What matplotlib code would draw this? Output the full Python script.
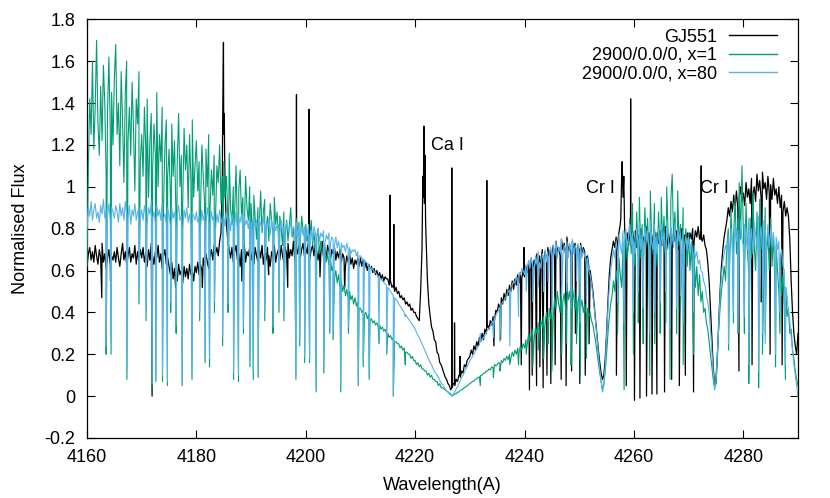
import numpy as np
import matplotlib
matplotlib.use("Agg")
import matplotlib.pyplot as plt
from matplotlib.ticker import FuncFormatter, MultipleLocator

# ---------------- data ----------------
# wavelength grid of the sampled spectra (Angstrom), 0.25 A steps, 4160..4290
wl_grid = np.arange(4160.0, 4290.0 + 0.1, 0.25)

# GJ551 observed spectrum, flux on wl_grid (one row = 5 A)
gj551_cont = [
    0.62, 0.68, 0.71, 0.65, 0.69, 0.64, 0.72, 0.67, 0.63, 0.70, 0.66, 0.73, 0.64, 0.68, 0.61, 0.66, 0.70, 0.63, 0.67, 0.65,
    0.69, 0.64, 0.71, 0.66, 0.62, 0.68, 0.73, 0.65, 0.69, 0.63, 0.67, 0.71, 0.64, 0.68, 0.66, 0.72, 0.63, 0.69, 0.65, 0.70,
    0.66, 0.71, 0.64, 0.68, 0.62, 0.70, 0.65, 0.73, 0.67, 0.63, 0.69, 0.66, 0.72, 0.64, 0.68, 0.61, 0.67, 0.70, 0.63, 0.66,
    0.62, 0.58, 0.64, 0.56, 0.61, 0.59, 0.55, 0.63, 0.58, 0.60, 0.54, 0.62, 0.57, 0.61, 0.56, 0.63, 0.58, 0.60, 0.55, 0.62,
    0.59, 0.64, 0.58, 0.63, 0.60, 0.66, 0.62, 0.68, 0.64, 0.61, 0.67, 0.70, 0.65, 0.72, 0.68, 0.71, 0.67, 0.74, 0.78, 1.05,
    1.25, 0.98, 0.82, 0.74, 0.70, 0.66, 0.71, 0.64, 0.69, 0.72, 0.65, 0.68, 0.62, 0.70, 0.66, 0.73, 0.64, 0.69, 0.67, 0.71,
    0.65, 0.69, 0.63, 0.71, 0.67, 0.64, 0.70, 0.66, 0.72, 0.63, 0.68, 0.65, 0.71, 0.67, 0.62, 0.69, 0.66, 0.72, 0.64, 0.68,
    0.70, 0.65, 0.72, 0.67, 0.64, 0.71, 0.68, 0.73, 0.66, 0.70, 0.67, 0.74, 0.65, 0.71, 0.68, 0.72, 0.66, 0.70, 0.73, 0.67,
    0.71, 0.68, 0.74, 0.66, 0.70, 0.72, 0.67, 0.73, 0.69, 0.65, 0.71, 0.68, 0.74, 0.67, 0.70, 0.66, 0.72, 0.69, 0.65, 0.70,
    0.68, 0.71, 0.65, 0.69, 0.66, 0.70, 0.64, 0.68, 0.66, 0.62, 0.67, 0.64, 0.68, 0.63, 0.66, 0.61, 0.65, 0.63, 0.66, 0.62,
    0.66, 0.62, 0.65, 0.61, 0.64, 0.60, 0.63, 0.61, 0.62, 0.59, 0.61, 0.58, 0.60, 0.57, 0.59, 0.56, 0.58, 0.55, 0.57, 0.56,
    0.56, 0.53, 0.55, 0.52, 0.53, 0.50, 0.52, 0.49, 0.50, 0.47, 0.48, 0.46, 0.47, 0.44, 0.45, 0.43, 0.44, 0.41, 0.42, 0.40,
    0.40, 0.38, 0.37, 0.36, 0.50, 0.70, 0.95, 1.00, 0.75, 0.55, 0.44, 0.38, 0.33, 0.31, 0.27, 0.26, 0.21, 0.20, 0.16, 0.15,
    0.13, 0.11, 0.09, 0.08, 0.06, 0.05, 0.03, 0.04, 0.06, 0.05, 0.08, 0.07, 0.10, 0.09, 0.12, 0.11, 0.15, 0.14, 0.17, 0.18,
    0.19, 0.22, 0.20, 0.24, 0.22, 0.26, 0.24, 0.28, 0.26, 0.30, 0.27, 0.32, 0.30, 0.34, 0.32, 0.36, 0.34, 0.38, 0.36, 0.41,
    0.40, 0.44, 0.42, 0.47, 0.44, 0.49, 0.46, 0.51, 0.48, 0.53, 0.50, 0.55, 0.51, 0.56, 0.53, 0.58, 0.54, 0.59, 0.56, 0.60,
    0.57, 0.62, 0.59, 0.64, 0.60, 0.66, 0.61, 0.65, 0.62, 0.68, 0.63, 0.67, 0.64, 0.70, 0.65, 0.69, 0.66, 0.71, 0.67, 0.70,
    0.68, 0.72, 0.66, 0.74, 0.69, 0.71, 0.67, 0.75, 0.70, 0.73, 0.68, 0.76, 0.69, 0.72, 0.67, 0.74, 0.70, 0.73, 0.68, 0.72,
    0.70, 0.73, 0.68, 0.71, 0.69, 0.66, 0.67, 0.62, 0.60, 0.55, 0.50, 0.43, 0.36, 0.29, 0.22, 0.16, 0.11, 0.08, 0.10, 0.18,
    0.30, 0.45, 0.58, 0.66, 0.70, 0.74, 0.71, 0.76, 0.73, 0.78, 0.82, 1.05, 0.95, 0.90, 0.75, 0.78, 0.74, 0.80, 0.76, 0.79,
    0.74, 0.79, 0.71, 0.77, 0.73, 0.80, 0.70, 0.76, 0.74, 0.81, 0.72, 0.78, 0.70, 0.77, 0.75, 0.80, 0.71, 0.78, 0.73, 0.79,
    0.72, 0.78, 0.74, 0.81, 0.70, 0.77, 0.73, 0.80, 0.71, 0.78, 0.74, 0.79, 0.70, 0.76, 0.73, 0.80, 0.71, 0.77, 0.74, 0.78,
    0.73, 0.78, 0.75, 0.80, 0.74, 0.79, 0.76, 0.81, 0.75, 0.78, 0.74, 0.77, 0.72, 0.70, 0.64, 0.55, 0.42, 0.28, 0.14, 0.05,
    0.06, 0.18, 0.35, 0.50, 0.62, 0.70, 0.76, 0.80, 0.84, 0.90, 0.86, 0.93, 0.88, 0.96, 0.91, 0.98, 0.89, 0.95, 1.00, 0.93,
    0.97, 0.91, 1.02, 0.95, 0.99, 0.92, 1.04, 0.96, 1.00, 0.93, 1.06, 0.98, 1.03, 0.95, 1.07, 0.99, 1.02, 0.94, 1.05, 0.97,
    1.01, 0.94, 1.04, 0.96, 0.99, 0.92, 1.00, 0.90, 0.96, 0.88, 0.93, 0.86, 0.90, 0.86, 0.75, 0.55, 0.40, 0.30, 0.24, 0.20,
    0.30,
]

# GJ551 narrow features (absorption lines and emission spikes)
gj551_line_wl = [
    4162.7, 4164.3, 4171.9, 4176.2, 4181.1,
    4184.8, 4184.9, 4184.95, 4185.1, 4185.15,
    4188.3, 4193.2, 4196.7,
    4198.27, 4198.30, 4198.33,
    4200.57, 4200.60, 4200.63,
    4202.6, 4207.1,
    4215.37, 4215.40, 4215.43,
    4216.07, 4216.10, 4216.13,
    4221.40, 4221.60, 4221.70, 4221.80, 4221.90,
    4226.67, 4226.70, 4226.73,
    4227.17, 4227.20, 4227.23,
    4228.17, 4228.20, 4228.23,
    4233.07, 4233.10, 4233.13,
    4234.4, 4235.6, 4239.4,
    4239.87, 4239.90, 4239.93,
    4240.9, 4241.4, 4242.2, 4242.8, 4243.4, 4244.1, 4244.8, 4245.6,
    4246.7, 4247.6, 4248.6, 4249.3, 4250.1, 4251.1, 4251.8,
    4256.8,
    4257.6, 4257.7, 4257.85, 4258.15, 4258.3,
    4258.6,
    4259.37, 4259.40, 4259.43,
    4260.1, 4261.1, 4262.3, 4263.3, 4264.2, 4265.6, 4266.9, 4268.3,
    4269.4, 4270.9,
    4272.27, 4272.30, 4272.33,
    4279.2, 4281.6, 4283.3, 4284.9, 4287.1,
]
gj551_line_flux = [
    0.47, 0.55, 0.00, 0.52, 0.52,
    1.30, 1.55, 1.69, 1.35, 1.20,
    0.55, 0.58, 0.52,
    0.70, 1.44, 0.70,
    0.70, 1.37, 0.70,
    0.57, 0.52,
    0.55, 0.96, 0.55,
    0.52, 0.82, 0.52,
    1.05, 1.29, 0.92, 1.15, 0.85,
    0.04, 1.09, 0.05,
    0.06, 0.35, 0.07,
    0.10, 0.19, 0.11,
    0.32, 1.03, 0.33,
    0.24, 0.27, 0.15,
    0.58, 0.71, 0.58,
    0.03, 0.10, 0.05, 0.14, 0.04, 0.10, 0.06, 0.15,
    0.08, 0.05, 0.12, 0.30, 0.06, 0.10, 0.25,
    0.10,
    0.85, 1.00, 1.12, 1.05, 0.80,
    0.05,
    0.72, 1.42, 0.72,
    -0.02, -0.01, 0.00, 0.01, 0.01, 0.02, 0.08, 0.05,
    0.10, 0.02,
    0.75, 1.10, 0.75,
    0.12, 0.15, 0.45, 0.20, 0.15,
]

# model 2900/0.0/0, x=1, flux on wl_grid
x1_cont = [
    0.62, 1.10, 1.42, 1.25, 1.60, 1.18, 1.38, 1.70, 1.30, 1.15, 1.48, 1.22, 1.58, 1.40, 1.05, 1.35, 1.62, 1.28, 1.45, 1.20,
    1.52, 1.68, 1.25, 1.40, 1.10, 1.55, 1.32, 1.02, 1.45, 1.60, 1.22, 1.38, 1.15, 1.50, 1.28, 0.98, 1.42, 1.30, 1.55, 1.12,
    1.25, 1.05, 1.38, 1.18, 1.42, 0.95, 1.22, 1.35, 1.08, 1.30, 1.15, 1.45, 1.00, 1.25, 1.12, 1.38, 0.92, 1.20, 1.32, 1.05,
    1.18, 0.95, 1.30, 1.05, 1.22, 0.88, 1.12, 1.35, 1.00, 1.15, 0.92, 1.28, 1.08, 1.20, 0.90, 1.25, 1.02, 1.32, 0.95, 1.10,
    1.22, 0.98, 1.12, 0.88, 1.20, 1.05, 0.92, 1.18, 1.00, 1.25, 0.90, 1.08, 0.96, 1.15, 0.86, 1.10, 1.02, 1.20, 0.92, 1.05,
    1.12, 0.95, 1.05, 0.85, 1.16, 0.90, 0.82, 1.00, 0.88, 1.10, 0.80, 0.98, 1.08, 0.86, 0.95, 0.78, 1.05, 0.90, 0.84, 1.00,
    0.92, 0.80, 0.96, 0.85, 0.75, 0.90, 0.82, 0.98, 0.78, 0.88, 0.94, 0.80, 0.86, 0.74, 0.92, 0.84, 0.78, 0.95, 0.82, 0.88,
    0.76, 0.86, 0.80, 0.72, 0.88, 0.78, 0.84, 0.74, 0.82, 0.90, 0.76, 0.80, 0.70, 0.85, 0.78, 0.83, 0.74, 0.86, 0.79, 0.76,
    0.82, 0.74, 0.80, 0.76, 0.84, 0.72, 0.78, 0.70, 0.76, 0.80, 0.68, 0.74, 0.70, 0.66, 0.72, 0.64, 0.68, 0.62, 0.66, 0.60,
    0.62, 0.56, 0.60, 0.54, 0.58, 0.52, 0.55, 0.50, 0.53, 0.48, 0.51, 0.47, 0.50, 0.46, 0.48, 0.44, 0.47, 0.43, 0.45, 0.42,
    0.42, 0.40, 0.41, 0.39, 0.40, 0.37, 0.39, 0.36, 0.37, 0.35, 0.36, 0.34, 0.35, 0.33, 0.34, 0.32, 0.33, 0.31, 0.32, 0.30,
    0.30, 0.28, 0.29, 0.27, 0.28, 0.26, 0.26, 0.25, 0.25, 0.23, 0.24, 0.22, 0.23, 0.21, 0.21, 0.20, 0.20, 0.18, 0.19, 0.17,
    0.17, 0.15, 0.16, 0.14, 0.15, 0.13, 0.13, 0.12, 0.12, 0.10, 0.11, 0.09, 0.10, 0.08, 0.08, 0.07, 0.07, 0.05, 0.06, 0.04,
    0.04, 0.035, 0.03, 0.025, 0.02, 0.015, 0.01, 0.0, 0.005, 0.01, 0.012, 0.018, 0.02, 0.028, 0.03, 0.035, 0.04, 0.045, 0.048, 0.055,
    0.06, 0.065, 0.07, 0.072, 0.08, 0.083, 0.09, 0.092, 0.10, 0.10, 0.11, 0.11, 0.12, 0.12, 0.13, 0.125, 0.14, 0.135, 0.15, 0.145,
    0.15, 0.16, 0.155, 0.17, 0.16, 0.18, 0.17, 0.19, 0.175, 0.20, 0.18, 0.21, 0.19, 0.22, 0.20, 0.23, 0.21, 0.24, 0.22, 0.25,
    0.23, 0.27, 0.25, 0.30, 0.26, 0.29, 0.32, 0.27, 0.33, 0.30, 0.35, 0.31, 0.36, 0.33, 0.38, 0.34, 0.40, 0.35, 0.42, 0.37,
    0.43, 0.38, 0.47, 0.42, 0.50, 0.44, 0.40, 0.52, 0.45, 0.49, 0.42, 0.54, 0.46, 0.50, 0.43, 0.52, 0.47, 0.41, 0.50, 0.45,
    0.48, 0.42, 0.46, 0.40, 0.44, 0.39, 0.42, 0.38, 0.40, 0.36, 0.34, 0.30, 0.26, 0.21, 0.16, 0.11, 0.07, 0.03, 0.06, 0.12,
    0.20, 0.30, 0.38, 0.44, 0.48, 0.55, 0.50, 0.60, 0.53, 0.66, 0.58, 0.52, 0.70, 0.62, 0.78, 0.65, 0.72, 0.85, 0.68, 0.92,
    0.75, 0.62, 0.88, 0.70, 0.95, 0.66, 0.82, 0.60, 0.90, 0.72, 0.85, 0.64, 0.98, 0.74, 0.68, 0.92, 0.78, 0.62, 0.88, 0.70,
    0.95, 0.72, 0.86, 0.66, 1.00, 0.78, 0.70, 0.94, 1.06, 0.75, 0.88, 0.68, 0.98, 0.72, 0.82, 0.64, 0.90, 0.70, 0.80, 0.62,
    0.78, 0.60, 0.72, 0.55, 0.68, 0.52, 0.62, 0.48, 0.58, 0.45, 0.50, 0.40, 0.42, 0.35, 0.32, 0.26, 0.20, 0.14, 0.08, 0.04,
    0.10, 0.20, 0.32, 0.42, 0.50, 0.56, 0.62, 0.55, 0.72, 0.80, 0.62, 0.88, 0.70, 0.78, 0.95, 0.68, 0.85, 1.02, 0.75, 1.10,
    0.80, 0.62, 0.92, 0.70, 0.58, 0.85, 0.66, 0.98, 0.72, 0.60, 0.88, 0.64, 0.94, 0.70, 0.82, 0.56, 0.90, 0.68, 0.78, 0.60,
    0.85, 0.62, 0.78, 0.55, 0.72, 0.60, 0.50, 0.68, 0.48, 0.58, 0.42, 0.52, 0.38, 0.42, 0.30, 0.32, 0.22, 0.18, 0.12, 0.08,
    0.05,
]

# model 2900/0.0/0, x=80, flux on wl_grid
x80_cont = [
    0.80, 0.90, 0.86, 0.93, 0.84, 0.89, 0.92, 0.85, 0.88, 0.83, 0.91, 0.87, 0.94, 0.85, 0.89, 0.86, 0.92, 0.84, 0.90, 0.88,
    0.85, 0.91, 0.88, 0.83, 0.92, 0.86, 0.90, 0.84, 0.93, 0.87, 0.85, 0.91, 0.82, 0.89, 0.86, 0.92, 0.84, 0.88, 0.90, 0.85,
    0.89, 0.84, 0.91, 0.86, 0.82, 0.90, 0.87, 0.93, 0.85, 0.88, 0.83, 0.91, 0.86, 0.89, 0.84, 0.92, 0.85, 0.87, 0.82, 0.90,
    0.86, 0.82, 0.90, 0.85, 0.88, 0.81, 0.87, 0.91, 0.84, 0.86, 0.80, 0.89, 0.85, 0.90, 0.83, 0.87, 0.82, 0.88, 0.86, 0.84,
    0.88, 0.83, 0.86, 0.80, 0.89, 0.84, 0.87, 0.82, 0.90, 0.85, 0.81, 0.88, 0.84, 0.86, 0.80, 0.87, 0.83, 0.89, 0.85, 0.82,
    0.86, 0.81, 0.88, 0.83, 0.85, 0.79, 0.87, 0.84, 0.82, 0.88, 0.80, 0.85, 0.83, 0.87, 0.79, 0.86, 0.82, 0.84, 0.80, 0.86,
    0.83, 0.79, 0.86, 0.81, 0.84, 0.78, 0.85, 0.82, 0.80, 0.86, 0.79, 0.83, 0.81, 0.85, 0.77, 0.84, 0.80, 0.83, 0.79, 0.82,
    0.82, 0.78, 0.84, 0.79, 0.81, 0.76, 0.83, 0.80, 0.78, 0.84, 0.77, 0.81, 0.79, 0.83, 0.76, 0.82, 0.78, 0.80, 0.77, 0.81,
    0.80, 0.76, 0.82, 0.77, 0.79, 0.74, 0.81, 0.78, 0.76, 0.80, 0.74, 0.78, 0.76, 0.79, 0.73, 0.77, 0.75, 0.78, 0.73, 0.76,
    0.75, 0.72, 0.76, 0.71, 0.74, 0.70, 0.73, 0.71, 0.72, 0.69, 0.73, 0.70, 0.71, 0.68, 0.70, 0.69, 0.70, 0.67, 0.69, 0.67,
    0.67, 0.66, 0.655, 0.65, 0.64, 0.635, 0.625, 0.62, 0.61, 0.605, 0.595, 0.59, 0.58, 0.575, 0.565, 0.56, 0.55, 0.545, 0.535, 0.53,
    0.52, 0.51, 0.50, 0.49, 0.48, 0.47, 0.46, 0.455, 0.44, 0.43, 0.42, 0.41, 0.40, 0.39, 0.38, 0.37, 0.36, 0.35, 0.34, 0.33,
    0.32, 0.305, 0.29, 0.28, 0.265, 0.25, 0.235, 0.22, 0.205, 0.19, 0.175, 0.16, 0.15, 0.135, 0.12, 0.11, 0.10, 0.09, 0.075, 0.065,
    0.055, 0.045, 0.035, 0.025, 0.018, 0.01, 0.005, 0.0, 0.01, 0.02, 0.035, 0.045, 0.06, 0.075, 0.09, 0.10, 0.115, 0.13, 0.14, 0.155,
    0.17, 0.18, 0.19, 0.20, 0.215, 0.225, 0.235, 0.245, 0.26, 0.27, 0.28, 0.29, 0.305, 0.315, 0.325, 0.335, 0.35, 0.36, 0.37, 0.385,
    0.40, 0.41, 0.425, 0.43, 0.45, 0.455, 0.47, 0.48, 0.50, 0.505, 0.52, 0.53, 0.55, 0.54, 0.57, 0.56, 0.59, 0.58, 0.61, 0.60,
    0.58, 0.63, 0.60, 0.65, 0.61, 0.66, 0.62, 0.59, 0.67, 0.63, 0.69, 0.64, 0.61, 0.68, 0.65, 0.70, 0.64, 0.69, 0.66, 0.71,
    0.67, 0.72, 0.68, 0.74, 0.66, 0.71, 0.69, 0.75, 0.67, 0.72, 0.70, 0.74, 0.66, 0.73, 0.69, 0.75, 0.68, 0.72, 0.70, 0.73,
    0.68, 0.72, 0.66, 0.70, 0.67, 0.64, 0.66, 0.60, 0.58, 0.54, 0.48, 0.42, 0.35, 0.28, 0.20, 0.13, 0.07, 0.02, 0.05, 0.15,
    0.28, 0.42, 0.52, 0.60, 0.65, 0.70, 0.66, 0.74, 0.69, 0.77, 0.72, 0.68, 0.79, 0.73, 0.80, 0.71, 0.76, 0.82, 0.72, 0.78,
    0.74, 0.68, 0.80, 0.72, 0.83, 0.70, 0.77, 0.66, 0.81, 0.74, 0.79, 0.69, 0.84, 0.73, 0.70, 0.82, 0.76, 0.68, 0.80, 0.72,
    0.82, 0.72, 0.78, 0.68, 0.84, 0.75, 0.70, 0.81, 0.77, 0.71, 0.83, 0.69, 0.80, 0.74, 0.78, 0.67, 0.79, 0.72, 0.76, 0.70,
    0.76, 0.70, 0.74, 0.68, 0.72, 0.66, 0.69, 0.63, 0.65, 0.60, 0.59, 0.55, 0.53, 0.48, 0.45, 0.40, 0.32, 0.22, 0.12, 0.03,
    0.06, 0.20, 0.35, 0.48, 0.58, 0.64, 0.68, 0.72, 0.69, 0.76, 0.71, 0.80, 0.73, 0.68, 0.82, 0.74, 0.79, 0.70, 0.84, 0.75,
    0.72, 0.82, 0.76, 0.70, 0.85, 0.74, 0.80, 0.68, 0.83, 0.77, 0.72, 0.86, 0.75, 0.81, 0.70, 0.84, 0.76, 0.73, 0.82, 0.71,
    0.80, 0.72, 0.78, 0.68, 0.76, 0.70, 0.74, 0.66, 0.70, 0.62, 0.60, 0.52, 0.48, 0.40, 0.36, 0.28, 0.22, 0.15, 0.10, 0.05,
    0.00,
]

# absorption lines shared by both models: position, flux at line centre
model_line_wl = [
    4163.5, 4164.4, 4167.3, 4169.5, 4170.8, 4171.9, 4172.6, 4173.8,
    4174.7, 4175.3, 4176.3, 4177.4, 4179.2, 4180.6, 4181.6, 4182.4,
    4183.3, 4184.8, 4185.8, 4186.8, 4187.7, 4188.6, 4189.8, 4190.4,
    4191.3, 4192.5, 4194.0, 4195.1, 4196.0, 4198.2, 4198.9, 4199.8,
    4200.7, 4201.9, 4203.3, 4204.4, 4205.0, 4206.4, 4207.8, 4209.6,
    4210.5, 4211.6, 4213.4, 4214.8, 4216.0, 4218.2,
    4231.9, 4234.3, 4235.5, 4237.3, 4238.9, 4240.3, 4241.5, 4242.5,
    4243.5, 4244.3, 4245.0, 4246.8, 4247.7, 4248.5, 4249.5, 4250.2,
    4251.3,
    4257.0, 4258.2, 4259.9, 4260.8, 4261.7, 4262.9, 4263.8, 4264.8,
    4265.8, 4266.6, 4267.8, 4268.5, 4269.0, 4270.9,
    4277.3, 4278.2, 4279.0, 4280.2, 4281.0, 4282.8, 4283.5, 4284.0,
    4285.9, 4286.7, 4287.7,
]
x1_line_flux = [
    0.20, 0.20, 0.08, 0.44, 0.36, 0.04, 0.07, 0.07,
    0.05, 0.40, 0.30, 0.05, 0.08, 0.36, 0.16, 0.14,
    0.40, 0.24, 0.40, 0.08, 0.07, 0.30, 0.14, 0.08,
    0.09, 0.36, 0.30, 0.40, 0.36, 0.08, 0.24, 0.16,
    0.16, 0.02, 0.11, 0.30, 0.27, 0.02, 0.30, 0.05,
    0.14, 0.08, 0.25, 0.20, 0.00, 0.15,
    0.05, 0.09, 0.12, 0.15, 0.15, 0.20, 0.14, 0.22,
    0.18, 0.25, 0.12, 0.20, 0.25, 0.15, 0.25, 0.10,
    0.18,
    0.30, 0.03, 0.20, 0.35, 0.25, 0.10, 0.25, 0.30,
    0.35, 0.08, 0.30, 0.40, 0.15, 0.20,
    0.22, 0.35, 0.30, 0.30, 0.06, 0.04, 0.20, 0.30,
    0.14, 0.30, 0.08,
]
x80_line_flux = [
    0.24, 0.26, 0.12, 0.50, 0.42, 0.06, 0.10, 0.10,
    0.07, 0.45, 0.34, 0.08, 0.12, 0.40, 0.19, 0.18,
    0.45, 0.28, 0.44, 0.11, 0.10, 0.33, 0.17, 0.12,
    0.12, 0.40, 0.33, 0.45, 0.40, 0.10, 0.27, 0.19,
    0.18, 0.04, 0.14, 0.33, 0.30, 0.05, 0.33, 0.07,
    0.17, 0.10, 0.28, 0.22, 0.01, 0.38,
    0.30, 0.28, 0.26, 0.24, 0.38, 0.50, 0.45, 0.52,
    0.50, 0.55, 0.40, 0.48, 0.50, 0.42, 0.55, 0.35,
    0.45,
    0.45, 0.35, 0.40, 0.50, 0.42, 0.30, 0.40, 0.45,
    0.50, 0.32, 0.42, 0.48, 0.35, 0.40,
    0.25, 0.40, 0.30, 0.38, 0.15, 0.12, 0.30, 0.25,
    0.20, 0.40, 0.15,
]

series_labels = ["GJ551", "2900/0.0/0, x=1", "2900/0.0/0, x=80"]
series_colors = ["#000000", "#009e73", "#56b4e9"]

annotations = [("Ca I", 4222.9, 1.195), ("Cr I", 4251.2, 0.99), ("Cr I", 4272.1, 0.99)]

x_ticks = [4160, 4180, 4200, 4220, 4240, 4260, 4280]

assert len(gj551_cont) == len(wl_grid)
assert len(x1_cont) == len(wl_grid)
assert len(x80_cont) == len(wl_grid)
assert len(gj551_line_wl) == len(gj551_line_flux)
assert len(model_line_wl) == len(x1_line_flux) == len(x80_line_flux)


def merge(grid, cont, line_wl, line_flux):
    w = np.concatenate([np.asarray(grid, float), np.asarray(line_wl, float)])
    f = np.concatenate([np.asarray(cont, float), np.asarray(line_flux, float)])
    order = np.argsort(w, kind="stable")
    return w[order], f[order]


obs_w, obs_f = merge(wl_grid, gj551_cont, gj551_line_wl, gj551_line_flux)
m1_w, m1_f = merge(wl_grid, x1_cont, model_line_wl, x1_line_flux)
m80_w, m80_f = merge(wl_grid, x80_cont, model_line_wl, x80_line_flux)

# ---------------- plot ----------------
plt.rcParams["font.family"] = ["Liberation Sans", "DejaVu Sans"]
FS = 13

fig = plt.figure(figsize=(8.3, 4.98), dpi=100)
ax = fig.add_axes([87 / 830, 1 - 438 / 498, 711 / 830, 418.7 / 498])

ax.plot(obs_w, obs_f, color=series_colors[0], lw=0.9, label=series_labels[0], zorder=2)
ax.plot(m1_w, m1_f, color=series_colors[1], lw=0.8, label=series_labels[1], zorder=3)
ax.plot(m80_w, m80_f, color=series_colors[2], lw=0.8, label=series_labels[2], zorder=4)

for txt, x, y in annotations:
    ax.text(x, y, txt, fontsize=FS, ha="left", va="center", zorder=5)

ax.set_xlim(4160, 4290)
ax.set_ylim(-0.2, 1.8)
ax.set_xticks(x_ticks)
ax.yaxis.set_major_locator(MultipleLocator(0.2))
ax.yaxis.set_major_formatter(FuncFormatter(lambda v, p: f"{round(v, 2):g}"))
ax.tick_params(direction="in", top=True, right=True, length=5.7, width=0.8,
               labelsize=FS, colors="black")
ax.tick_params(axis="x", pad=8.0)
ax.tick_params(axis="y", pad=8.5)
for s in ax.spines.values():
    s.set_linewidth(0.9)

ax.set_xlabel("Wavelength(A)", fontsize=FS)
ax.set_ylabel("Normalised Flux", fontsize=FS)
ax.xaxis.set_label_coords(0.5, -0.092)
ax.yaxis.set_label_coords(-0.082, 0.5)

leg = ax.legend(loc="upper right", bbox_to_anchor=(0.9806, 0.995), frameon=False,
                markerfirst=False, handlelength=2.65, labelspacing=0.07,
                handletextpad=0.67, borderaxespad=0, fontsize=FS)
for h in leg.legend_handles:
    h.set_linewidth(1.0)

fig.savefig("out.png", dpi=100)
